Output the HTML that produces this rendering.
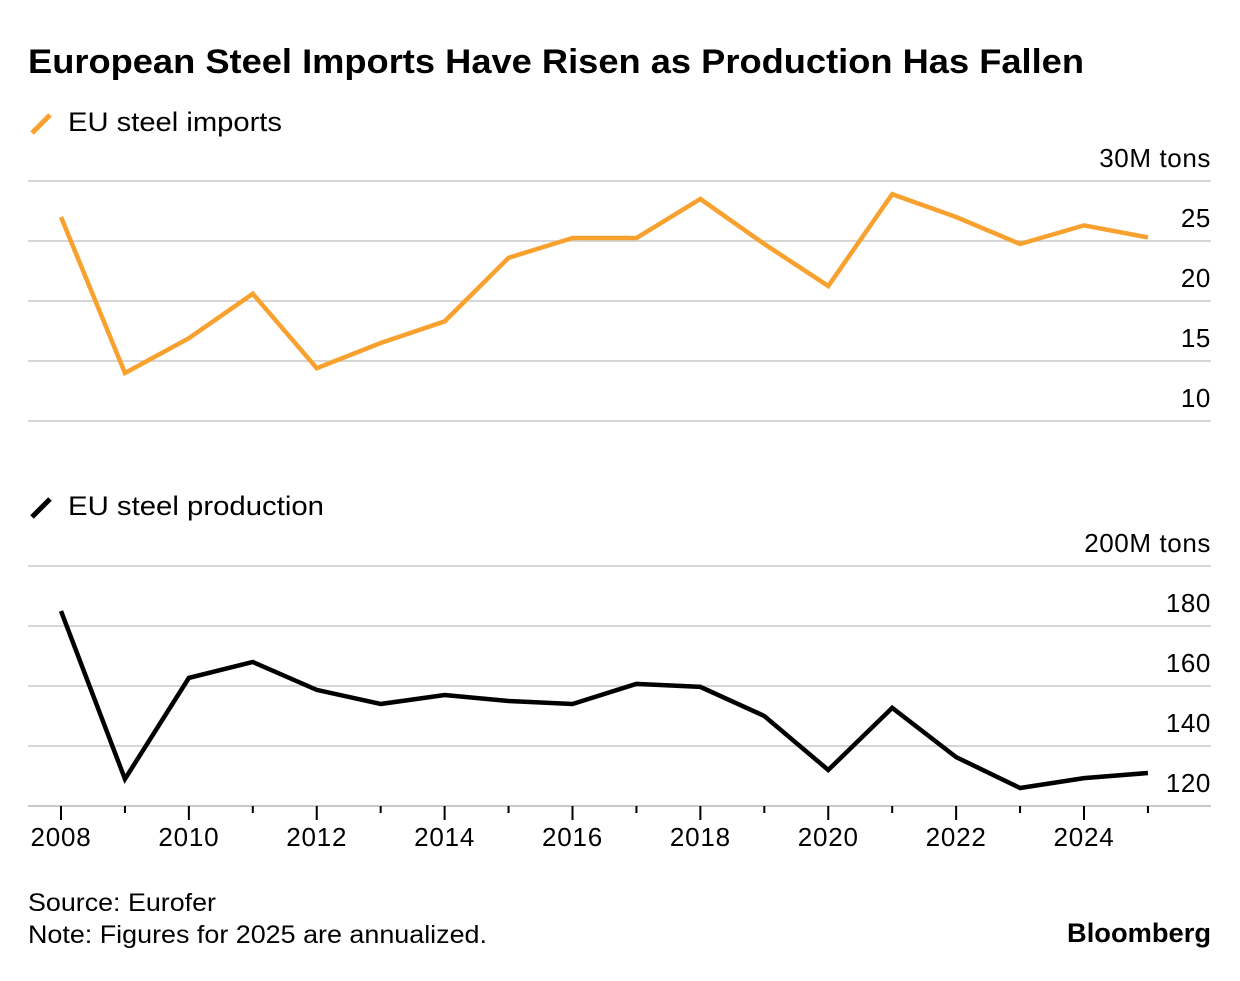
<!DOCTYPE html>
<html><head><meta charset="utf-8"><style>
body{margin:0;background:#fff;font-family:"Liberation Sans",sans-serif;}
</style></head><body>
<svg width="1240" height="976" xmlns="http://www.w3.org/2000/svg" font-family="Liberation Sans, sans-serif">
<text x="28" y="73" font-size="34" font-weight="bold" fill="#000" textLength="1056" lengthAdjust="spacingAndGlyphs">European Steel Imports Have Risen as Production Has Fallen</text>
<g>
<line x1="32" y1="133" x2="50" y2="115" stroke="#f9a12e" stroke-width="5"/>
<text x="68" y="131" font-size="27" fill="#000" textLength="214" lengthAdjust="spacingAndGlyphs">EU steel imports</text></g>
<g>
<line x1="32" y1="517" x2="50" y2="499" stroke="#000" stroke-width="5"/>
<text x="68" y="515" font-size="27" fill="#000" textLength="256" lengthAdjust="spacingAndGlyphs">EU steel production</text></g>
<g id="top"></g>
<g id="bot"></g>
<g id="xaxis"></g>
<text x="28" y="911" font-size="25" fill="#000" textLength="188" lengthAdjust="spacingAndGlyphs">Source: Eurofer</text>
<text x="28" y="943" font-size="25" fill="#000" textLength="459" lengthAdjust="spacingAndGlyphs">Note: Figures for 2025 are annualized.</text>
<text x="1211" y="942" font-size="27" font-weight="bold" text-anchor="end" fill="#000" textLength="144" lengthAdjust="spacingAndGlyphs">Bloomberg</text>
</svg>
<script>
const years=[2008,2009,2010,2011,2012,2013,2014,2015,2016,2017,2018,2019,2020,2021,2022,2023,2024,2025];
const imports=[27.0,14.0,16.9,20.6,14.4,16.5,18.3,23.6,25.25,25.25,28.5,24.75,21.25,28.9,27.0,24.75,26.3,25.3];
const production=[185,129,162.7,168,158.7,154,157,155,154,160.7,159.7,150,132,152.7,136.3,126,129.3,131];
const topTicks=[10,15,20,25,30];
const topLabels=["10","15","20","25","30M tons"];
const botTicks=[120,140,160,180,200];
const botLabels=["120","140","160","180","200M tons"];
const xLabels=[2008,2010,2012,2014,2016,2018,2020,2022,2024];
const NS="http://www.w3.org/2000/svg";
const x=y=>61+(y-2008)*(1084-61)/16;
const yT=v=>421-(v-10)*12;
const yB=v=>806-(v-120)*3;
function mk(t,a,p){const e=document.createElementNS(NS,t);for(const k in a)e.setAttribute(k,a[k]);p.appendChild(e);return e;}
function panel(g,ticks,labels,sy,data,color){
 ticks.forEach((t,i)=>{
  const gl=mk('line',{x1:28,x2:1211,y1:sy(t),y2:sy(t),stroke:'#c8c8c8','stroke-width':(i==0&&g.id=='bot')?2:1.5},g);
  
  
  const tx=mk('text',{x:1211,y:sy(t)-14,'text-anchor':'end','font-size':26,fill:'#000','letter-spacing':0.6},g);
  tx.textContent=labels[i];
  
  
 });
 const p=mk('polyline',{points:data.map((v,i)=>x(years[i])+','+sy(v)).join(' '),fill:'none',stroke:color,'stroke-width':4.5,'stroke-linejoin':'miter'},g);
 
 
}
panel(document.getElementById('top'),topTicks,topLabels,yT,imports,'#f9a12e');
panel(document.getElementById('bot'),botTicks,botLabels,yB,production,'#000');
const xa=document.getElementById('xaxis');
years.forEach(yr=>{
 const major=xLabels.includes(yr);
 const t=mk('line',{x1:x(yr),x2:x(yr),y1:806,y2:major?820:813,stroke:'#000','stroke-width':2},xa);
 
 
});
xLabels.forEach(yr=>{
 const t=mk('text',{x:x(yr),y:846,'text-anchor':'middle','font-size':26,fill:'#000','letter-spacing':0.8},xa);
 t.textContent=yr;
 
 
});
</script>
</body></html>
